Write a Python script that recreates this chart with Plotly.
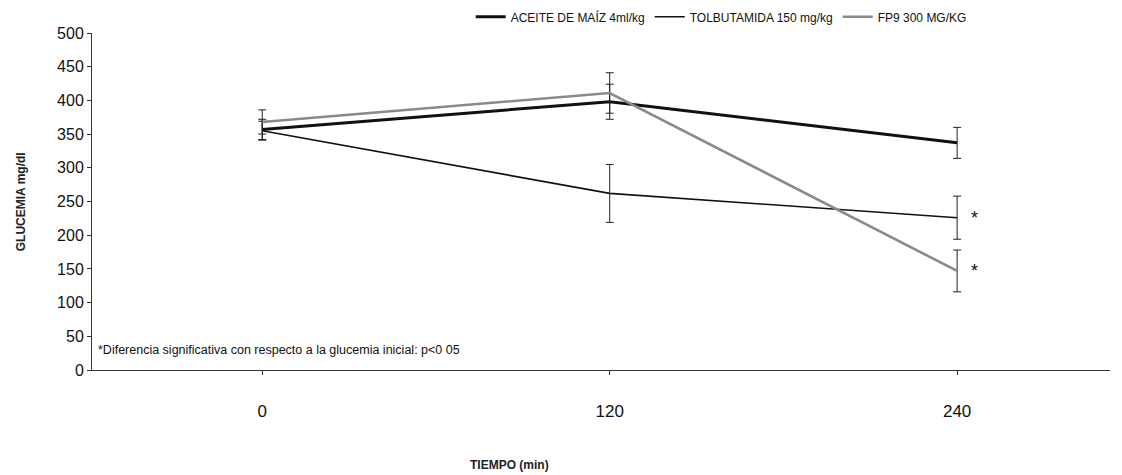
import plotly.graph_objects as go

categories = ["0", "120", "240"]
series_names = ["ACEITE DE MAÍZ 4ml/kg", "TOLBUTAMIDA 150 mg/kg", "FP9 300 MG/KG"]
aceite = [357, 398, 337]
aceite_err = [15, 26, 23]
tolbutamida = [355, 262, 226]
tolbutamida_err = [14, 43, 32]
fp9 = [368, 411, 147]
fp9_err = [18, 30, 31]
y_ticks = [0, 50, 100, 150, 200, 250, 300, 350, 400, 450, 500]
note = "*Diferencia significativa con respecto a la glucemia inicial: p<0 05"

xpos = list(range(len(categories)))
FONT = "Liberation Sans, Arial, sans-serif"

fig = go.Figure()
styles = [("#111111", 3.0), ("#111111", 1.6), ("#8a8a8a", 2.6)]
for name, vals, errs, (col, w) in zip(series_names, [aceite, tolbutamida, fp9],
                                       [aceite_err, tolbutamida_err, fp9_err], styles):
    fig.add_trace(go.Scatter(
        x=xpos, y=vals, name=name, mode="lines",
        line=dict(color=col, width=w),
        error_y=dict(type="data", array=errs, visible=True, color="#222222",
                     thickness=1, width=4),
    ))

# significance stars
for v in [tolbutamida[2], fp9[2]]:
    fig.add_annotation(x=2.05, y=v, text="*", showarrow=False,
                       font=dict(family=FONT, size=18, color="#111"),
                       xanchor="center", yanchor="middle")

fig.add_annotation(x=0.004, xref="paper", y=30, yref="y", text=note, showarrow=False,
                   xanchor="left", yanchor="middle",
                   font=dict(family=FONT, size=12.5, color="#111"))

# axis titles as annotations (positioned like the reference)
fig.add_annotation(x=-0.07, xref="paper", y=0.5, yref="paper", text="<b>GLUCEMIA mg/dl</b>",
                   textangle=-90, showarrow=False, xanchor="center", yanchor="middle",
                   font=dict(family=FONT, size=12, color="#222"))
fig.add_annotation(x=0.41, xref="paper", y=-0.282, yref="paper", text="<b>TIEMPO (min)</b>",
                   showarrow=False, xanchor="center", yanchor="middle",
                   font=dict(family=FONT, size=12, color="#222"))

fig.update_layout(
    width=1122, height=475,
    margin=dict(l=84, r=20, t=25, b=113, autoexpand=False),
    paper_bgcolor="white", plot_bgcolor="white",
    font=dict(family=FONT, color="#111"),
    showlegend=True,
    legend=dict(orientation="h", x=0.372, y=1.048, xanchor="left", yanchor="middle",
                font=dict(family=FONT, size=12, color="#111"),
                bgcolor="rgba(0,0,0,0)", itemwidth=30, tracegroupgap=0),
    xaxis=dict(range=[-0.49, 2.44], tickmode="array", tickvals=xpos, ticktext=categories,
               showgrid=False, zeroline=False, showline=True, linecolor="#333", linewidth=1,
               ticks="outside", ticklen=4, tickcolor="#333", ticklabelstandoff=22,
               tickfont=dict(family=FONT, size=17, color="#111")),
    yaxis=dict(range=[0, 500], tickvals=y_ticks, showgrid=False, zeroline=False,
               showline=True, linecolor="#333", linewidth=1, ticks="outside", ticklen=4,
               tickcolor="#333", tickfont=dict(family=FONT, size=16, color="#111")),
)

fig.write_html("out.html")
